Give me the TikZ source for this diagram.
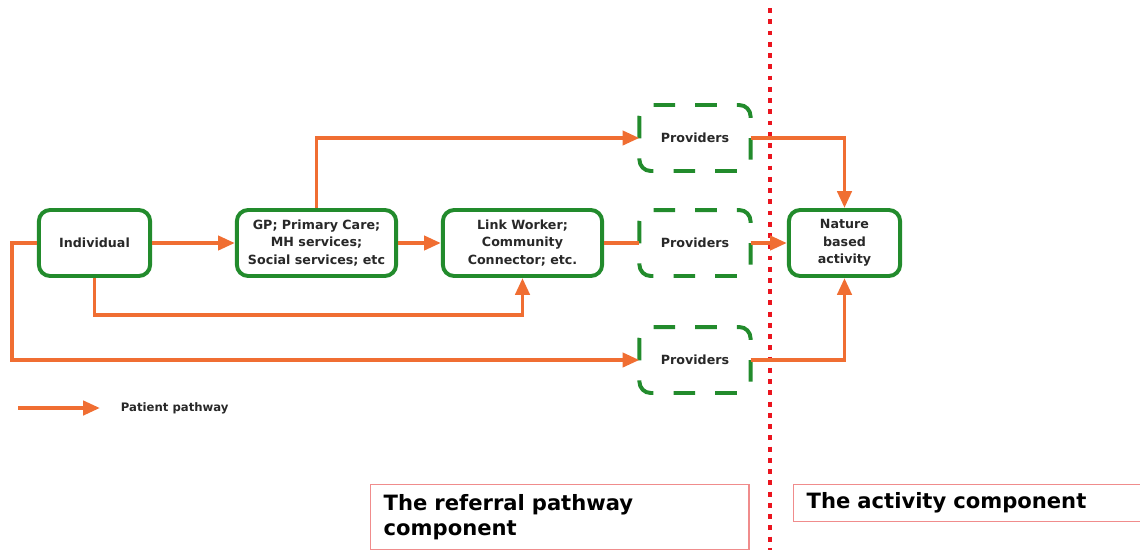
\documentclass[tikz,border=0pt]{standalone}
\usepackage{fontspec}
\setmainfont{DejaVu Sans}
\usepackage{xcolor}
\usepackage{tikz}
\usetikzlibrary{arrows.meta, positioning}
\definecolor{boxgreen}{RGB}{34,139,44}
\definecolor{pathorange}{RGB}{240,110,50}
\definecolor{divred}{RGB}{235,20,30}
\definecolor{labelred}{RGB}{240,140,140}
\definecolor{txtgray}{RGB}{40,40,40}
\def\boxH{1.65cm}
\def\smallW{2.78cm}
\def\wideW{3.98cm}
% dashed border, started at the middle of the left side
\newcommand{\provborder}[1]{%
\draw[provline] (#1.west) |- (#1.north) -| (#1.east) |- (#1.south) -| cycle;
}

\begin{document}
\begin{tikzpicture}[
    x=0.025cm, y=-0.025cm,
    >={Triangle[length=12pt,width=10pt]},
    service/.style={draw=boxgreen, line width=2.8pt, rounded corners=8pt,
        minimum height=\boxH, align=center, text=txtgray,
        font=\fontsize{9}{12.4}\selectfont\bfseries},
    provider/.style={service, draw=none, minimum width=2.68cm, minimum height=1.55cm},
    provline/.style={draw=boxgreen, line width=2.8pt, rounded corners=8pt,
        dash pattern=on 15.4pt off 14.26pt, dash phase=7.7pt},
    pathway/.style={draw=pathorange, line width=2.8pt},
    divider/.style={draw=divred, line width=3.5pt, dash pattern=on 3.5pt off 4.5pt},
    labelbox/.style={draw=labelred, line width=1pt, anchor=north west,
        align=left, inner xsep=0.32cm, text=black,
        font=\fontsize{15}{18}\selectfont\bfseries}
]
\useasboundingbox (0,0) rectangle (1140,549);

% boxes
\node[service, minimum width=\smallW] (ind) at (94.5,243) {Individual};
\node[service, minimum width=\wideW] (gp) at (316.5,243) {GP; Primary Care;\\MH services;\\Social services; etc};
\node[service, minimum width=\wideW] (link) at (522.5,243) {Link Worker;\\Community\\Connector; etc.};
\node[provider] (prov1) at (695,138) {Providers};
\node[provider] (prov2) at (695,243) {Providers};
\node[provider] (prov3) at (695,360) {Providers};
\node[service, minimum width=\smallW] (nat) at (844.5,243) {Nature\\based\\activity};
\provborder{prov1}
\provborder{prov2}
\provborder{prov3}

% dividing line
\coordinate (divtop) at (770,8);
\coordinate (divbot) at (770,552);
\draw[divider] (divtop) -- (divbot);

% patient pathways
\draw[pathway, ->] (ind) -- (gp);
\draw[pathway, ->] (gp) -- (link);
\draw[pathway] (link) -- (prov2);
\draw[pathway, ->] (prov2) -- (nat);
\draw[pathway, ->] (gp.north) |- (prov1.west);
\draw[pathway, ->] (prov1.east) -| (nat.north);
\draw[pathway, ->] (prov3.east) -| (nat.south);
\draw[pathway, ->] (ind.south) -- ++(0,37) -| (link.south);
\draw[pathway, ->] (ind.west) -- ++(-25,0) |- (prov3.west);

% legend
\coordinate (legA) at (18,408);
\coordinate (legB) at (100,408);
\draw[pathway, ->] (legA) -- (legB);
\node[anchor=west, text=txtgray, font=\fontsize{8.3}{10}\selectfont\bfseries] (legtxt) at (116,408) {Patient pathway};

% component labels
\node[labelbox, minimum width=9.45cm, minimum height=1.62cm, text width=8.8cm] (refer) at (370,484) {The referral pathway\\component};
\node[labelbox, minimum width=8.9cm, minimum height=0.92cm, text width=8.25cm] (activ) at (793,484) {The activity component};
\end{tikzpicture}
\end{document}
